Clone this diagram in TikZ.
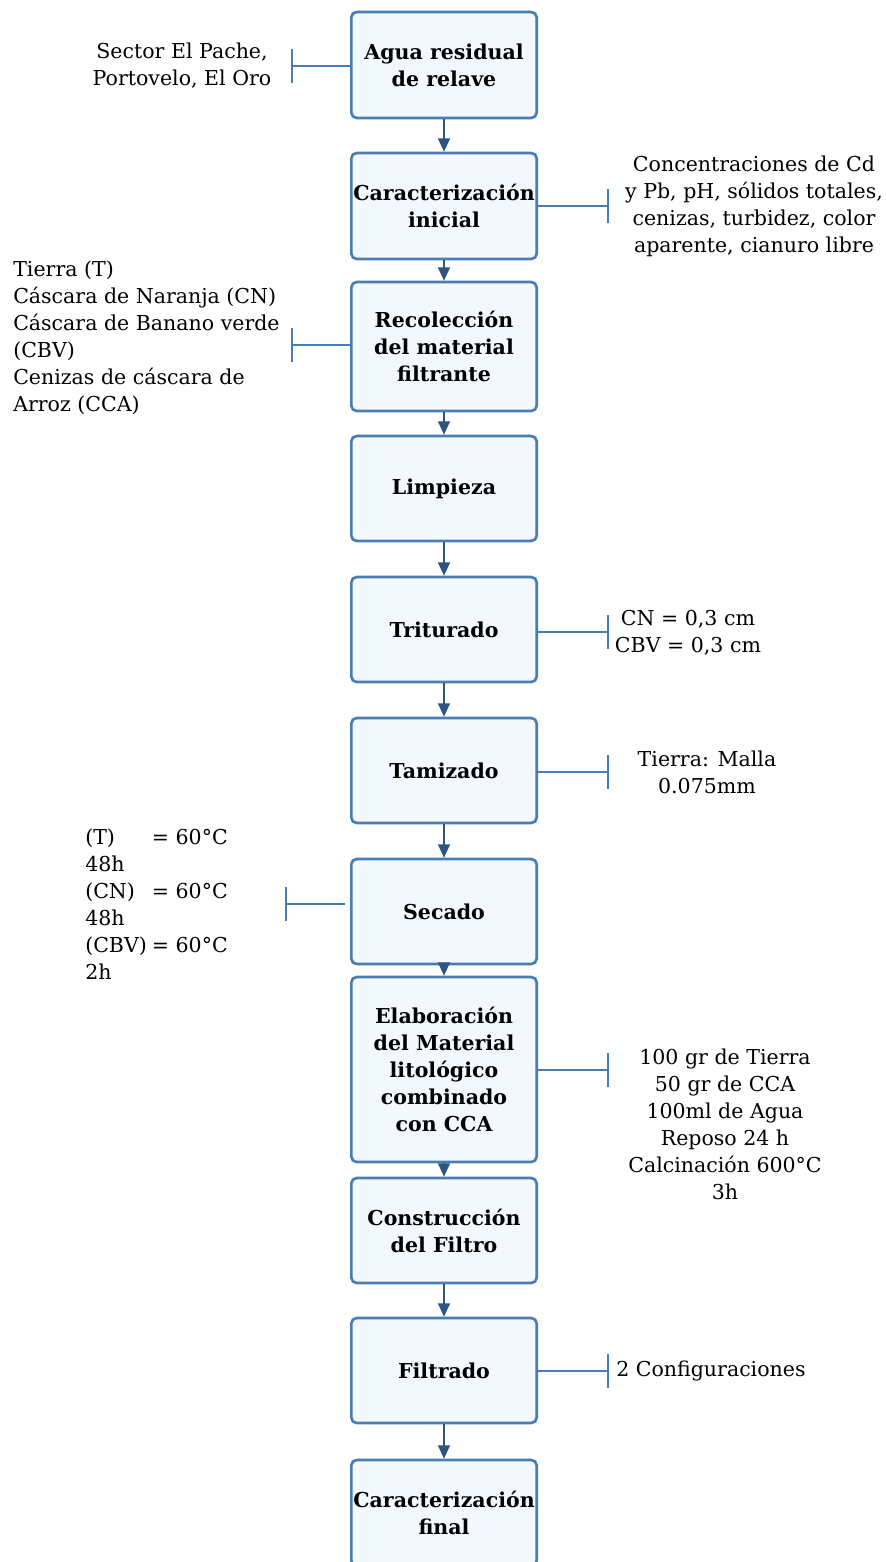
\documentclass[tikz,border=0pt]{standalone}
\usepackage{fontspec}
\setmainfont{DejaVu Serif}
\usetikzlibrary{arrows.meta}
\definecolor{boxline}{HTML}{4A7DB4}
\definecolor{boxfill}{HTML}{F3F8FE}
\definecolor{flecha}{HTML}{2D5580}

\begin{document}
\begin{tikzpicture}[x=0.75pt,y=-0.75pt,
  etapa/.style={draw=boxline, fill=boxfill, line width=2pt, rounded corners=4pt,
    minimum width=139pt, align=center, inner sep=1pt,
    font=\bfseries\fontsize{15.4}{20.25}\selectfont},
  nota/.style={align=center, inner sep=0pt, font=\fontsize{15.4}{20.25}\selectfont},
  paso/.style={flecha, line width=1.1pt, -{Triangle[width=9pt,length=10pt]}},
  tope/.style={boxline, line width=1.5pt, -{Bar[width=25pt,line width=1.5pt]}}]
\useasboundingbox (0,0) rectangle (885,1562);
\node[etapa, minimum height=79.5pt] (b1) at (444,65) {Agua residual\\de relave};
\node[etapa, minimum height=79.5pt] (b2) at (444,206) {Caracterización\\inicial};
\node[etapa, minimum height=96.75pt] (b3) at (444,346.5) {Recolección\\del material\\filtrante};
\node[etapa, minimum height=78.75pt] (b4) at (444,488.5) {Limpieza};
\node[etapa, minimum height=78.75pt] (b5) at (444,629.5) {Triturado};
\node[etapa, minimum height=78.75pt] (b6) at (444,770.5) {Tamizado};
\node[etapa, minimum height=78.75pt] (b7) at (444,911.5) {Secado};
\node[etapa, minimum height=138.75pt] (b8) at (444,1069.5) {Elaboración\\del Material\\litológico\\combinado\\con CCA};
\node[etapa, minimum height=78.75pt] (b9) at (444,1230.5) {Construcción\\del Filtro};
\node[etapa, minimum height=78.75pt] (b10) at (444,1370.5) {Filtrado};
\node[etapa, minimum height=79.5pt] (b11) at (444,1513) {Caracterización\\final};
\draw[paso] (b1) -- (b2);
\draw[paso] (b2) -- (b3);
\draw[paso] (b3) -- (b4);
\draw[paso] (b4) -- (b5);
\draw[paso] (b5) -- (b6);
\draw[paso] (b6) -- (b7);
\draw[paso] (b7) -- (b8);
\draw[paso] (b8) -- (b9);
\draw[paso] (b9) -- (b10);
\draw[paso] (b10) -- (b11);
\node[nota] (n1) at (182,66) {Sector El Pache,\\Portovelo, El Oro};
\node[nota] (n2) at (754,206) {Concentraciones de Cd\\y Pb, pH, sólidos totales,\\cenizas, turbidez, color\\aparente, cianuro libre};
\node[nota, align=left, anchor=west] (n3) at (13,337.5) {Tierra (T)\\Cáscara de Naranja (CN)\\Cáscara de Banano verde\\(CBV)\\Cenizas de cáscara de\\Arroz (CCA)};
\node[nota] (n5) at (688,633) {CN = 0,3 cm\\CBV = 0,3 cm};
\node[nota] (n6) at (707,772) {Tierra: Malla\\0.075mm};
\node[nota, align=left, anchor=west] (n7) at (85,904) {\makebox[50pt][l]{(T)}= 60°C\\48h\\\makebox[50pt][l]{(CN)}= 60°C\\48h\\\makebox[50pt][l]{(CBV)}= 60°C\\2h};
\node[nota] (n8) at (725,1124.5) {100 gr de Tierra\\50 gr de CCA\\100ml de Agua\\Reposo 24 h\\Calcinación 600°C\\3h};
\node[nota, anchor=west] (n10) at (616,1371) {2 Configuraciones};
\coordinate (t1) at (291,66);
\coordinate (t2) at (609,206);
\coordinate (t3) at (291,345);
\coordinate (t5) at (609,632);
\coordinate (t6) at (609,772);
\coordinate (t7a) at (345,904);
\coordinate (t7) at (285,904);
\coordinate (t8) at (609,1070);
\coordinate (t10) at (609,1371);
\draw[tope] (b1.west |- t1) -- (t1);
\draw[tope] (b2.east |- t2) -- (t2);
\draw[tope] (b3.west |- t3) -- (t3);
\draw[tope] (b5.east |- t5) -- (t5);
\draw[tope] (b6.east |- t6) -- (t6);
\draw[tope] (t7a) -- (t7);
\draw[tope] (b8.east |- t8) -- (t8);
\draw[tope] (b10.east |- t10) -- (t10);
\end{tikzpicture}
\end{document}
